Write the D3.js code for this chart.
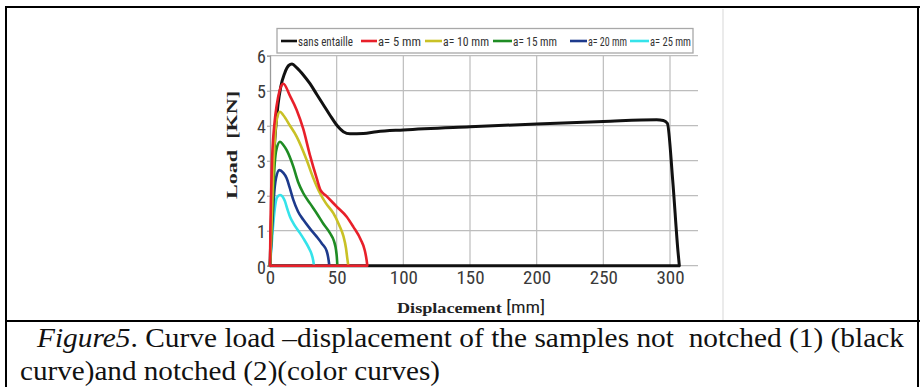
<!DOCTYPE html>
<html><head><meta charset="utf-8">
<script src="https://cdn.jsdelivr.net/npm/d3@7/dist/d3.min.js"></script>
<style>
html,body{margin:0;padding:0;background:#fff;}
svg{display:block;}
text{white-space:pre;}
</style></head>
<body>
<svg id="c" width="920" height="387"></svg>
<script>
// ---- data ----
const seriesNames = ["sans entaille","a= 5 mm","a= 10 mm","a= 15 mm","a= 20 mm","a= 25 mm"];
const seriesColors = ["#111111","#e8202a","#c9c126","#1f8c24","#1d3a8c","#35e3ea"];
const xTicks = [0,50,100,150,200,250,300];
const yTicks = [0,1,2,3,4,5,6];
const sansEntaille = [[0,0],[1,1.3],[2,2.5],[4,3.8],[6,4.6],[8,5.1],[11,5.5],[14,5.72],[16.5,5.76],[20,5.66],[25,5.45],[30,5.2],[35,4.9],[40,4.6],[45,4.3],[50,4.02],[55,3.83],[60,3.77],[70,3.78],[80,3.83],[100,3.88],[150,3.97],[200,4.05],[250,4.12],[290,4.17],[295,4.15],[298,4.07],[302,2.45],[306,0.4],[307,0]];
const a5 = [[0,0],[0.3,1],[0.8,2],[1.5,3],[2.5,3.7],[4,4.3],[6,4.8],[8,5.1],[10,5.2],[15,4.85],[20,4.45],[25,3.9],[30,3.15],[35,2.5],[38,2.15],[42,2.0],[50,1.69],[57.5,1.4],[62.5,1.11],[68,0.75],[71,0.45],[72.5,0.15],[73,0]];
const a10 = [[0,0],[1,1],[1.8,2],[2.7,3],[4,3.8],[5.5,4.25],[7.5,4.4],[10,4.3],[15,4.0],[20,3.69],[27.5,3.02],[32,2.55],[37.5,2.07],[42,1.78],[47.5,1.5],[52,1.15],[55,0.85],[57,0.5],[58,0.2],[58.7,0]];
const a15 = [[0,0],[1.2,1],[2.3,2],[3.5,2.9],[5,3.35],[7.5,3.54],[10,3.45],[12.5,3.3],[17.5,2.83],[21,2.4],[25,2.07],[30,1.78],[35,1.5],[40,1.2],[45,0.93],[48,0.7],[49.5,0.45],[50.3,0.15],[50.5,0]];
const a20 = [[0,0],[1.5,1],[2.8,1.9],[4.5,2.5],[7,2.73],[10,2.65],[12.5,2.5],[15,2.2],[17.5,1.88],[21,1.55],[25,1.31],[30,1.06],[35,0.83],[39,0.63],[42.5,0.42],[44,0.15],[44.5,0]];
const a25 = [[0,0],[2,1],[3.5,1.6],[5.2,1.95],[7.5,2.02],[9.5,1.97],[11,1.86],[13,1.62],[15,1.4],[18,1.18],[22.5,0.93],[26,0.72],[28.7,0.54],[31,0.35],[32.4,0.15],[33,0]];
const seriesData = [sansEntaille,a5,a10,a15,a20,a25];
const captionLine1Italic = "Figure5";
const captionLine1 = ". Curve load \u2013displacement of the samples not  notched (1) (black";
const captionLine2 = "curve)and notched (2)(color curves)";
const xLabel = "Displacement";
const xLabelUnit = " [mm]";
const yLabel = "Load  [KN]";

// ---- layout ----
const svg = d3.select("#c");
const x = d3.scaleLinear().domain([0,321]).range([270,698]);
const y = d3.scaleLinear().domain([0,6]).range([265.7,55.7]);
const serif = "'Liberation Serif','Times New Roman',serif";
const tickFont = "'Roboto Condensed','Arial Narrow',sans-serif";

// page frame (table borders)
const frame = svg.append("g").attr("stroke","#000").attr("stroke-width",2).attr("fill","none");
frame.append("line").attr("x1",5).attr("x2",920).attr("y1",7).attr("y2",7);
frame.append("line").attr("x1",6).attr("x2",6).attr("y1",6).attr("y2",387);
frame.append("line").attr("x1",5).attr("x2",920).attr("y1",321).attr("y2",321);
frame.append("line").attr("x1",918).attr("x2",918).attr("y1",6).attr("y2",387);
// faint image edge
svg.append("line").attr("x1",723).attr("x2",723).attr("y1",9).attr("y2",320).attr("stroke","#e4e4e4").attr("stroke-width",1.5);

// grid
const grid = svg.append("g").attr("stroke","#bdbdbd").attr("stroke-width",1.2);
grid.selectAll(".gx").data(xTicks.filter(d=>d>0)).join("line")
  .attr("x1",d=>x(d)).attr("x2",d=>x(d)).attr("y1",y(6)).attr("y2",y(0));
grid.selectAll(".gy").data(yTicks).join("line")
  .attr("x1",x(0)).attr("x2",x(321)).attr("y1",d=>y(d)).attr("y2",d=>y(d));

// axes
const xAxis = svg.append("g").attr("transform",`translate(0,${y(0)})`)
  .call(d3.axisBottom(x).tickValues(xTicks).tickFormat(d3.format("d")).tickSize(0).tickPadding(8));
xAxis.select(".domain").remove();
xAxis.selectAll("text").attr("font-family",tickFont).attr("font-size",19).attr("fill","#3a3a3a")
  .attr("dy","0.55em");
const yAxis = svg.append("g").attr("transform",`translate(${x(0)},0)`)
  .call(d3.axisLeft(y).tickValues(yTicks).tickFormat(d3.format("d")).tickSize(3).tickPadding(1));
yAxis.select(".domain").attr("stroke","#9a9a9a").attr("stroke-width",1.3);
yAxis.selectAll(".tick line").attr("stroke","#9a9a9a");
yAxis.selectAll("text").attr("font-family",tickFont).attr("font-size",18).attr("fill","#3a3a3a")
  .attr("dy",(d)=> d===0 ? "0.45em" : "0.36em");

// axis titles
const xt = svg.append("text").attr("x",397).attr("y",313)
  .attr("font-family",serif).attr("font-weight","bold")
  .attr("font-size",15).attr("fill","#222").attr("textLength",148).attr("lengthAdjust","spacingAndGlyphs");
xt.append("tspan").text(xLabel);
xt.append("tspan").attr("font-family",tickFont).attr("font-weight","normal").attr("font-size",16).text(xLabelUnit);
svg.append("text").attr("transform","translate(237,145) rotate(-90)").attr("text-anchor","middle")
  .attr("font-family",serif).attr("font-weight","bold")
  .attr("font-size",15).attr("fill","#222").attr("textLength",108).attr("lengthAdjust","spacingAndGlyphs")
  .text(yLabel);

// curves
const line = d3.line().x(d=>x(d[0])).y(d=>y(d[1])).curve(d3.curveMonotoneX);
const lineLin = d3.line().x(d=>x(d[0])).y(d=>y(d[1]));
const order = [0,5,4,3,2,1];
order.forEach(i=>{
  const pts = seriesData[i];
  svg.append("path").attr("d",line(pts)).attr("fill","none")
    .attr("stroke",seriesColors[i]).attr("stroke-width", i===0?3:2.6)
    .attr("stroke-linejoin","round").attr("stroke-linecap","round");
  if(i<=1){
    const last = pts[pts.length-1];
    svg.append("path").attr("d",lineLin([last,[0,0]])).attr("fill","none")
      .attr("stroke",seriesColors[i]).attr("stroke-width",i===0?3:2.6);
  }
});

// legend
const lg = svg.append("g");
lg.append("rect").attr("x",277).attr("y",28.5).attr("width",416).attr("height",24.5)
  .attr("fill","#fff").attr("stroke","#a8a8a8").attr("stroke-width",1.3);
const legLayout = [[281,297,354],[361,377,422],[425,442,490],[493,512,558],[570,587,628],[630,649,692]];
seriesNames.forEach((n,i)=>{
  const [l0,t0,t1] = legLayout[i];
  lg.append("line").attr("x1",l0).attr("x2",t0).attr("y1",41).attr("y2",41)
    .attr("stroke",seriesColors[i]).attr("stroke-width",2.6);
  lg.append("text").attr("x",t0+1).attr("y",45.5).attr("font-family",tickFont).attr("font-size",12)
    .attr("fill","#333").attr("textLength",t1-t0-2).attr("lengthAdjust","spacingAndGlyphs").text(n);
});

// caption: size chosen so natural width fits the measured span
const cap = svg.append("g").attr("font-family",serif).attr("fill","#111");
const t1 = cap.append("text").attr("x",37).attr("y",347).attr("font-size",24);
t1.append("tspan").attr("font-style","italic").text(captionLine1Italic);
t1.append("tspan").text(captionLine1);
const w1 = t1.node().getComputedTextLength();
t1.attr("font-size", Math.min(28, 24*867/w1)).attr("textLength",867).attr("lengthAdjust","spacingAndGlyphs");
const t2 = cap.append("text").attr("x",20).attr("y",380).attr("font-size",24).text(captionLine2);
const w2 = t2.node().getComputedTextLength();
t2.attr("font-size", Math.min(28, 24*420/w2)).attr("textLength",420).attr("lengthAdjust","spacingAndGlyphs");
</script>
</body></html>
